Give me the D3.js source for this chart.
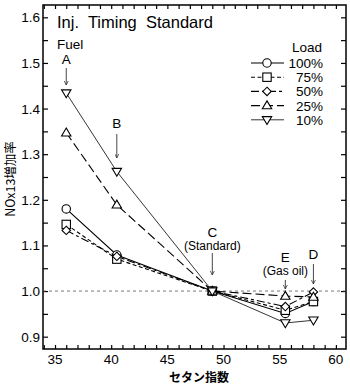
<!DOCTYPE html>
<html>
<head>
<meta charset="utf-8">
<script src="https://cdn.jsdelivr.net/npm/d3@7"></script>
<style>
  body { margin: 0; background: #fff; }
  svg { font-family: "Liberation Sans", Arial, sans-serif; }
</style>
</head>
<body>
<svg width="350" height="386"></svg>
<script>
// セタン指数 (燃料 A, B, C, E, D)
const fuels = ['A', 'B', 'C', 'E', 'D'];
const cetane = [36, 40.5, 49, 55.5, 58];
const loads = ['100%', '75%', '50%', '25%', '10%'];
// NOx 増加率
const load100 = [1.180, 1.079, 1.0, 0.951, 0.977];
const load75  = [1.146, 1.070, 1.0, 0.958, 0.977];
const load50  = [1.133, 1.076, 1.0, 0.966, 0.998];
const load25  = [1.347, 1.189, 1.0, 0.989, 0.987];
const load10  = [1.434, 1.262, 1.0, 0.930, 0.936];
const yTicks = [0.9, 1.0, 1.1, 1.2, 1.3, 1.4, 1.5, 1.6];
const xTicks = [35, 40, 45, 50, 55, 60];

const series = [
  {name: loads[0], values: load100, sym: 'circle', dash: null, w: 1.1},
  {name: loads[1], values: load75, sym: 'square', dash: '4,2.5', w: 1.1},
  {name: loads[2], values: load50, sym: 'diamond', dash: '8,3,3,3', w: 1.1},
  {name: loads[3], values: load25, sym: 'up', dash: '9,4', w: 1.1},
  {name: loads[4], values: load10, sym: 'down', dash: null, w: 0.8}
];

const svg = d3.select('svg');
const area = {left: 43, right: 346, top: 5, bottom: 349};

const scX = d3.scaleLinear().domain([33.93, 60.9]).range([area.left, area.right]);
const scY = d3.scaleLinear().domain([0.873, 1.627]).range([area.bottom, area.top]);

// рамка
svg.append('rect')
  .attr('x', area.left).attr('y', area.top)
  .attr('width', area.right - area.left).attr('height', area.bottom - area.top)
  .attr('fill', 'none').attr('stroke', '#000').attr('stroke-width', 1.5);

// засечки внутрь
const xMinor = d3.range(34, 61, 1);
const yMinor = d3.range(0.9, 1.6001, 0.05);
const axB = d3.axisBottom(scX).tickValues(xMinor).tickSizeInner(-4).tickSizeOuter(0).tickFormat('');
const axT = d3.axisTop(scX).tickValues(xMinor).tickSizeInner(-4).tickSizeOuter(0).tickFormat('');
const axL = d3.axisLeft(scY).tickValues(yMinor).tickSizeInner(-5).tickSizeOuter(0).tickFormat('');
const axR = d3.axisRight(scY).tickValues(yMinor).tickSizeInner(-5).tickSizeOuter(0).tickFormat('');
[[axB, `translate(0,${area.bottom})`], [axT, `translate(0,${area.top})`],
 [axL, `translate(${area.left},0)`], [axR, `translate(${area.right},0)`]].forEach(([ax, tr]) => {
  const g = svg.append('g').attr('transform', tr).call(ax);
  g.select('.domain').remove();
  g.selectAll('line').attr('stroke', '#000').attr('stroke-width', 1.2);
});

// подписи осей
svg.append('g').selectAll('text').data(xTicks).enter().append('text')
  .attr('x', d => scX(d)).attr('y', 364)
  .attr('text-anchor', 'middle').attr('font-size', 13.5).text(d => d);
svg.append('g').selectAll('text').data(yTicks).enter().append('text')
  .attr('x', 40).attr('y', d => scY(d) + 5)
  .attr('text-anchor', 'end').attr('font-size', 13.5).text(d => d.toFixed(1));

svg.append('text').attr('x', 199).attr('y', 382).attr('text-anchor', 'middle')
  .attr('font-size', 12).attr('font-family', 'Noto Sans CJK JP').attr('font-weight', 'bold')
  .text('セタン指数');
svg.append('text').attr('transform', 'translate(15,179) rotate(-90)').attr('text-anchor', 'middle')
  .attr('font-size', 12.5).attr('font-family', 'Noto Sans CJK JP')
  .text('NOx13増加率');

// линия 1.0
svg.append('line')
  .attr('x1', area.left).attr('x2', area.right)
  .attr('y1', scY(1.0)).attr('y2', scY(1.0))
  .attr('stroke', '#555').attr('stroke-width', 0.8).attr('stroke-dasharray', '3,3');

// заголовок
svg.append('text').attr('x', 57).attr('y', 28).attr('font-size', 16.5)
  .attr('xml:space', 'preserve').style('white-space', 'pre')
  .text('Inj.  Timing  Standard');

// маркеры
function drawSym(g, sym, x, y) {
  const s = 4.2;
  if (sym === 'circle') {
    g.append('circle').attr('cx', x).attr('cy', y).attr('r', s);
  } else if (sym === 'square') {
    g.append('rect').attr('x', x - s).attr('y', y - s).attr('width', 2 * s).attr('height', 2 * s);
  } else if (sym === 'diamond') {
    g.append('path').attr('d', `M${x},${y - s}L${x + s},${y}L${x},${y + s}L${x - s},${y}Z`);
  } else if (sym === 'up') {
    g.append('path').attr('d', `M${x},${y - s - 0.5}L${x + s + 0.5},${y + s - 1}L${x - s - 0.5},${y + s - 1}Z`);
  } else {
    g.append('path').attr('d', `M${x},${y + s + 0.5}L${x + s + 0.5},${y - s + 1}L${x - s - 0.5},${y - s + 1}Z`);
  }
}

const line = d3.line().x(d => scX(d[0])).y(d => scY(d[1]));
series.forEach(s => {
  const pts = cetane.map((c, i) => [c, s.values[i]]);
  svg.append('path').datum(pts).attr('d', line)
    .attr('fill', 'none').attr('stroke', '#000').attr('stroke-width', s.w)
    .attr('stroke-dasharray', s.dash);
});
series.forEach(s => {
  const g = svg.append('g').attr('fill', '#fff').attr('stroke', '#000').attr('stroke-width', 1.1);
  cetane.forEach((c, i) => drawSym(g, s.sym, scX(c), scY(s.values[i])));
});

// легенда
svg.append('text').attr('x', 322).attr('y', 52).attr('text-anchor', 'end')
  .attr('font-size', 13.5).text('Load');
series.forEach((s, i) => {
  const y = 63 + i * 14.2;
  svg.append('line').attr('x1', 251).attr('x2', 284).attr('y1', y).attr('y2', y)
    .attr('stroke', '#000').attr('stroke-width', s.w).attr('stroke-dasharray', s.dash);
  const g = svg.append('g').attr('fill', '#fff').attr('stroke', '#000').attr('stroke-width', 1.1);
  drawSym(g, s.sym, 267, y);
  svg.append('text').attr('x', 323).attr('y', y + 5).attr('text-anchor', 'end')
    .attr('font-size', 13.5).text(s.name);
});

// подписи топлив со стрелками
svg.append('defs').append('marker').attr('id', 'arr')
  .attr('viewBox', '0 0 6 6').attr('refX', 6).attr('refY', 3)
  .attr('markerWidth', 5).attr('markerHeight', 5).attr('orient', 'auto')
  .append('path').attr('d', 'M0,0L6,3L0,6').attr('fill', 'none').attr('stroke', '#333').attr('stroke-width', 1);

const notes = [
  {t: 'A', sub: 'Fuel', subAbove: true, y: 64, a1: 68, a2: 85},
  {t: 'B', sub: null, y: 128, a1: 134, a2: 158},
  {t: 'C', sub: '(Standard)', y: 237, a1: 253, a2: 275},
  {t: 'E', sub: '(Gas oil)', y: 262, a1: 280, a2: 289},
  {t: 'D', sub: null, y: 259, a1: 264, a2: 284}
];
notes.forEach((n, i) => {
  const x = scX(cetane[i]);
  svg.append('text').attr('x', x).attr('y', n.y).attr('text-anchor', 'middle')
    .attr('font-size', 13.5).text(n.t);
  if (n.sub) {
    if (n.subAbove) {
      svg.append('text').attr('x', 57).attr('y', 49).attr('font-size', 13.5).text(n.sub);
    } else {
      svg.append('text').attr('x', x).attr('y', n.y + 13).attr('text-anchor', 'middle')
        .attr('font-size', 12).text(n.sub);
    }
  }
  svg.append('line').attr('x1', x).attr('x2', x).attr('y1', n.a1).attr('y2', n.a2)
    .attr('stroke', '#333').attr('stroke-width', 0.9).attr('marker-end', 'url(#arr)');
});
</script>
</body>
</html>
